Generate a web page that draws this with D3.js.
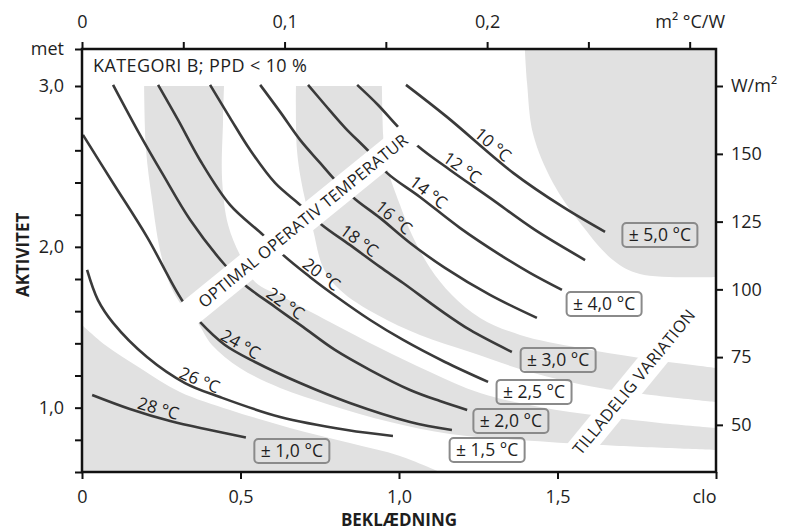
<!DOCTYPE html>
<html>
<head>
<meta charset="utf-8">
<script src="https://cdn.jsdelivr.net/npm/d3@7"></script>
<style>
body { margin: 0; background: #fff; }
svg { display: block; font-family: "Open Sans", sans-serif; }
</style>
</head>
<body>
<div class="canva"></div>
<script>
var width = 789;
var height = 531;

// temperature lines, points as [clo, met]
const line10 = [[1.022,3.007],[1.151,2.808],[1.360,2.460],[1.517,2.248],[1.650,2.093]];
const line12 = [[0.868,3.007],[0.934,2.882],[0.997,2.746],[1.063,2.621],[1.161,2.478],[1.287,2.304],[1.429,2.105],[1.587,1.918]];
const line14 = [[0.713,3.007],[0.767,2.882],[0.830,2.740],[0.909,2.584],[0.962,2.460],[1.066,2.310],[1.192,2.118],[1.319,1.950],[1.413,1.838],[1.514,1.732]];
const line16 = [[0.562,3.007],[0.625,2.839],[0.688,2.665],[0.751,2.522],[0.798,2.416],[0.861,2.298],[0.940,2.180],[1.035,2.024],[1.145,1.869],[1.287,1.701],[1.435,1.558]];
const line18 = [[0.404,3.007],[0.467,2.802],[0.530,2.603],[0.609,2.397],[0.688,2.261],[0.757,2.136],[0.845,2.012],[0.940,1.875],[1.013,1.775],[1.129,1.608],[1.224,1.483],[1.356,1.346]];
const line20 = [[0.240,3.007],[0.303,2.789],[0.372,2.540],[0.467,2.261],[0.571,2.074],[0.634,1.950],[0.719,1.813],[0.804,1.688],[0.909,1.545],[1.013,1.421],[1.145,1.284],[1.281,1.160]];
const line22 = [[0.098,3.007],[0.183,2.696],[0.256,2.447],[0.341,2.168],[0.451,1.887],[0.514,1.763],[0.609,1.626],[0.697,1.502],[0.798,1.359],[0.909,1.234],[1.035,1.110],[1.129,1.041],[1.215,0.986]];
const line24 = [[0.003,2.696],[0.098,2.397],[0.205,2.062],[0.315,1.670],[0.372,1.533],[0.451,1.390],[0.546,1.284],[0.688,1.153],[0.845,1.029],[1.035,0.911],[1.167,0.861]];
const line26 = [[0.016,1.856],[0.050,1.670],[0.098,1.527],[0.205,1.315],[0.325,1.153],[0.435,1.066],[0.625,0.942],[0.836,0.861],[0.981,0.824]];
const line28 = [[0.032,1.079],[0.151,0.992],[0.278,0.917],[0.404,0.861],[0.517,0.815]];

const temps = [10, 12, 14, 16, 18, 20, 22, 24, 26, 28];
const tempCurves = [line10, line12, line14, line16, line18, line20, line22, line24, line26, line28];
const labelClo = [1.278, 1.183, 1.076, 0.965, 0.858, 0.738, 0.625, 0.486, 0.360, 0.233];

// grey tolerance zones (edges as [clo, met])
const zoneC = [[1.397,3.23],[1.404,3.019],[1.423,2.702],[1.486,2.397],[1.571,2.149],[1.675,1.918],[1.760,1.831],[2.0,1.813]];
const zoneBOuter = [[0.946,3.0],[0.950,2.696],[0.956,2.540],[1.003,2.261],[1.041,2.074],[1.098,1.869],[1.167,1.701],[1.256,1.558],[1.382,1.452],[1.571,1.371],[1.760,1.309],[2.0,1.247]];
const zoneBInner = [[0.675,3.0],[0.678,2.603],[0.697,2.354],[0.729,2.105],[0.760,1.875],[0.814,1.732],[0.931,1.577],[1.066,1.452],[1.224,1.346],[1.413,1.222],[1.634,1.122],[2.0,1.035]];
const zoneAOuter = [[0.448,3.0],[0.445,2.789],[0.442,2.416],[0.461,2.136],[0.498,1.950],[0.546,1.782],[0.640,1.682],[0.782,1.533],[0.940,1.371],[1.098,1.222],[1.256,1.091],[1.445,1.004],[1.634,0.948],[1.823,0.905],[2.0,0.874]];
const zoneAInner = [[0.196,3.0],[0.202,2.603],[0.221,2.292],[0.246,1.981],[0.278,1.763],[0.325,1.608],[0.363,1.533],[0.410,1.390],[0.498,1.247],[0.625,1.122],[0.782,1.017],[0.972,0.911],[1.161,0.836],[1.382,0.799],[1.634,0.768],[2.0,0.737]];
const zoneD = [[0,1.514],[0.073,1.390],[0.183,1.247],[0.309,1.098],[0.467,0.986],[0.656,0.874],[0.845,0.780],[1.003,0.700],[1.129,0.6]];

// tolerance labels
const tolText = ['± 5,0 °C', '± 4,0 °C', '± 3,0 °C', '± 2,5 °C', '± 2,0 °C', '± 1,5 °C', '± 1,0 °C'];
const tolAt = [[1.823,2.074],[1.647,1.645],[1.502,1.297],[1.426,1.098],[1.353,0.917],[1.278,0.737],[0.662,0.731]];

// axes
const cloTicks = [0, 0.5, 1, 1.5, 2];
const cloLabels = ['0', '0,5', '1,0', '1,5', 'clo'];
const metTicks = [0.6, 0.8, 1.0, 1.2, 1.4, 1.6, 1.8, 2.0, 2.2, 2.4, 2.6, 2.8, 3.0, 3.23];
const wTicks = [50, 75, 100, 125, 150];
const rTicks = [0, 0.05, 0.1, 0.15, 0.2, 0.25, 0.3];
const rLabels = ['0', '', '0,1', '', '0,2', '', 'm² °C/W'];

const x = d3.scaleLinear().domain([0, 2]).range([82, 716]);
const y = d3.scaleLinear().domain([0.6, 3.23]).range([472, 49]);
const yW = d3.scaleLinear().domain([32.6, 188.7]).range([472, 49]);
const xR = d3.scaleLinear().domain([0, 0.313]).range([82, 716]);

const svg = d3.select('.canva').append('svg')
            .attr('width', width)
            .attr('height', height);

const line = d3.line()
               .x(d => x(d[0]))
               .y(d => y(d[1]))
               .curve(d3.curveCatmullRom.alpha(0.5));

const grey = '#e1e1e1';
const ink = '#1e1e1e';

function band(outer, inner) {
  return line(outer) + line(inner.slice().reverse()).replace('M', 'L') + 'Z';
}

// zones
svg.append('path')
   .attr('d', line(zoneC) + 'L' + x(2) + ',' + y(3.23) + 'Z')
   .attr('fill', grey);
svg.append('path').attr('d', band(zoneBOuter, zoneBInner)).attr('fill', grey);
svg.append('path').attr('d', band(zoneAOuter, zoneAInner)).attr('fill', grey);
svg.append('path')
   .attr('d', line(zoneD) + 'L' + x(0) + ',' + y(0.6) + 'Z')
   .attr('fill', grey);

function strip(a, b, w) {
  const p1 = [x(a[0]), y(a[1])], p2 = [x(b[0]), y(b[1])];
  const len = Math.hypot(p2[0] - p1[0], p2[1] - p1[1]);
  const ang = Math.atan2(p2[1] - p1[1], p2[0] - p1[0]) * 180 / Math.PI;
  svg.append('rect')
     .attr('x', 0).attr('y', -w / 2)
     .attr('width', len).attr('height', w)
     .attr('transform', 'translate(' + p1 + ') rotate(' + ang + ')')
     .attr('fill', '#fff');
  return ang;
}

function stripText(pos, ang, txt, len) {
  svg.append('text')
     .attr('transform', 'translate(' + x(pos[0]) + ',' + y(pos[1]) + ') rotate(' + ang + ')')
     .attr('text-anchor', 'middle')
     .attr('dy', '0.36em')
     .attr('font-size', 16.5)
     .attr('fill', ink)
     .attr('textLength', len)
     .attr('lengthAdjust', 'spacing')
     .text(txt);
}

// "tilladelig variation" cut
const angV = strip([1.511, 0.6], [1.956, 1.670], 26);

// temperature lines
const paths = tempCurves.map(pts =>
  svg.append('path')
     .attr('d', line(pts))
     .attr('fill', 'none')
     .attr('stroke', '#3a3a3a')
     .attr('stroke-width', 2.6));

// "optimal operativ temperatur" cut
const angO = strip([0.284, 1.499], [1.050, 2.724], 27);
stripText([0.697, 2.161], angO, 'OPTIMAL OPERATIV TEMPERATUR', 264);
stripText([1.741, 1.160], angV, 'TILLADELIG VARIATION', 182);

function lengthAtX(node, px) {
  let lo = 0, hi = node.getTotalLength();
  for (let k = 0; k < 40; k++) {
    const mid = (lo + hi) / 2;
    if (node.getPointAtLength(mid).x < px) lo = mid; else hi = mid;
  }
  return lo;
}

paths.forEach((p, i) => {
  const node = p.node();
  const l = lengthAtX(node, x(labelClo[i]));
  const a = node.getPointAtLength(Math.max(0, l - 4));
  const b = node.getPointAtLength(l + 4);
  const c = node.getPointAtLength(l);
  const ang = Math.atan2(b.y - a.y, b.x - a.x) * 180 / Math.PI;
  svg.append('text')
     .attr('transform', 'translate(' + c.x + ',' + c.y + ') rotate(' + ang + ')')
     .attr('y', -3)
     .attr('text-anchor', 'middle')
     .attr('font-size', 17)
     .attr('fill', ink)
     .text(temps[i] + ' °C');
});

// tolerance boxes
const boxes = svg.selectAll('g.tol')
                 .data(tolText)
                 .enter().append('g')
                 .attr('class', 'tol')
                 .attr('transform', (d, i) => 'translate(' + x(tolAt[i][0]) + ',' + y(tolAt[i][1]) + ')');
boxes.append('rect')
     .attr('x', -37.5).attr('y', -12)
     .attr('width', 75).attr('height', 24)
     .attr('rx', 4)
     .attr('fill', 'none')
     .attr('stroke', '#8a8a8a')
     .attr('stroke-width', 2);
boxes.append('text')
     .attr('text-anchor', 'middle')
     .attr('dy', '0.36em')
     .attr('font-size', 17.5)
     .attr('fill', ink)
     .text(d => d);

svg.append('text')
   .attr('x', 93).attr('y', 72)
   .attr('font-size', 18)
   .attr('fill', ink)
   .attr('textLength', 214)
   .attr('lengthAdjust', 'spacing')
   .text('KATEGORI B; PPD < 10 %');

// axes
function styleAxis(g) {
  g.select('.domain').remove();
  g.selectAll('.tick line').attr('stroke', '#111').attr('stroke-width', 2);
  g.selectAll('.tick text')
   .attr('font-size', 18)
   .attr('font-family', '"Open Sans", sans-serif')
   .attr('fill', ink);
}

const fmt1 = d3.format('.1f');

svg.append('g')
   .attr('transform', 'translate(82,0)')
   .call(d3.axisLeft(y).tickValues(metTicks).tickSize(7).tickPadding(11)
           .tickFormat(d => d === 3.23 ? 'met' :
                            (Math.abs(d - Math.round(d)) < 1e-6 ? fmt1(d).replace('.', ',') : '')))
   .call(styleAxis);

svg.append('g')
   .attr('transform', 'translate(0,472)')
   .call(d3.axisBottom(x).tickValues(cloTicks).tickSize(7).tickPadding(11)
           .tickFormat((d, i) => cloLabels[i]))
   .call(styleAxis)
   .call(g => g.selectAll('.tick text').filter(d => d === 2).attr('text-anchor', 'end'));

svg.append('g')
   .attr('transform', 'translate(0,49)')
   .call(d3.axisTop(xR).tickValues(rTicks).tickSize(7).tickPadding(14)
           .tickFormat((d, i) => rLabels[i]))
   .call(styleAxis);

const wUnit = yW.invert(y(3.0));
svg.append('g')
   .attr('transform', 'translate(716,0)')
   .call(d3.axisRight(yW).tickValues(wTicks.concat([wUnit])).tickSize(7).tickPadding(8)
           .tickFormat(d => d === wUnit ? 'W/m²' : d))
   .call(styleAxis);

// frame
svg.append('rect')
   .attr('x', x(0)).attr('y', y(3.23))
   .attr('width', x(2) - x(0)).attr('height', y(0.6) - y(3.23))
   .attr('fill', 'none')
   .attr('stroke', '#111')
   .attr('stroke-width', 2.5);

// axis titles
svg.append('text')
   .attr('transform', 'translate(23,' + y(1.95) + ') rotate(-90)')
   .attr('text-anchor', 'middle')
   .attr('dy', '0.36em')
   .attr('font-size', 17)
   .attr('font-weight', 'bold')
   .attr('fill', ink)
   .text('AKTIVITET');

svg.append('text')
   .attr('x', x(1)).attr('y', 526)
   .attr('text-anchor', 'middle')
   .attr('font-size', 17)
   .attr('font-weight', 'bold')
   .attr('fill', ink)
   .text('BEKLÆDNING');
</script>
</body>
</html>
